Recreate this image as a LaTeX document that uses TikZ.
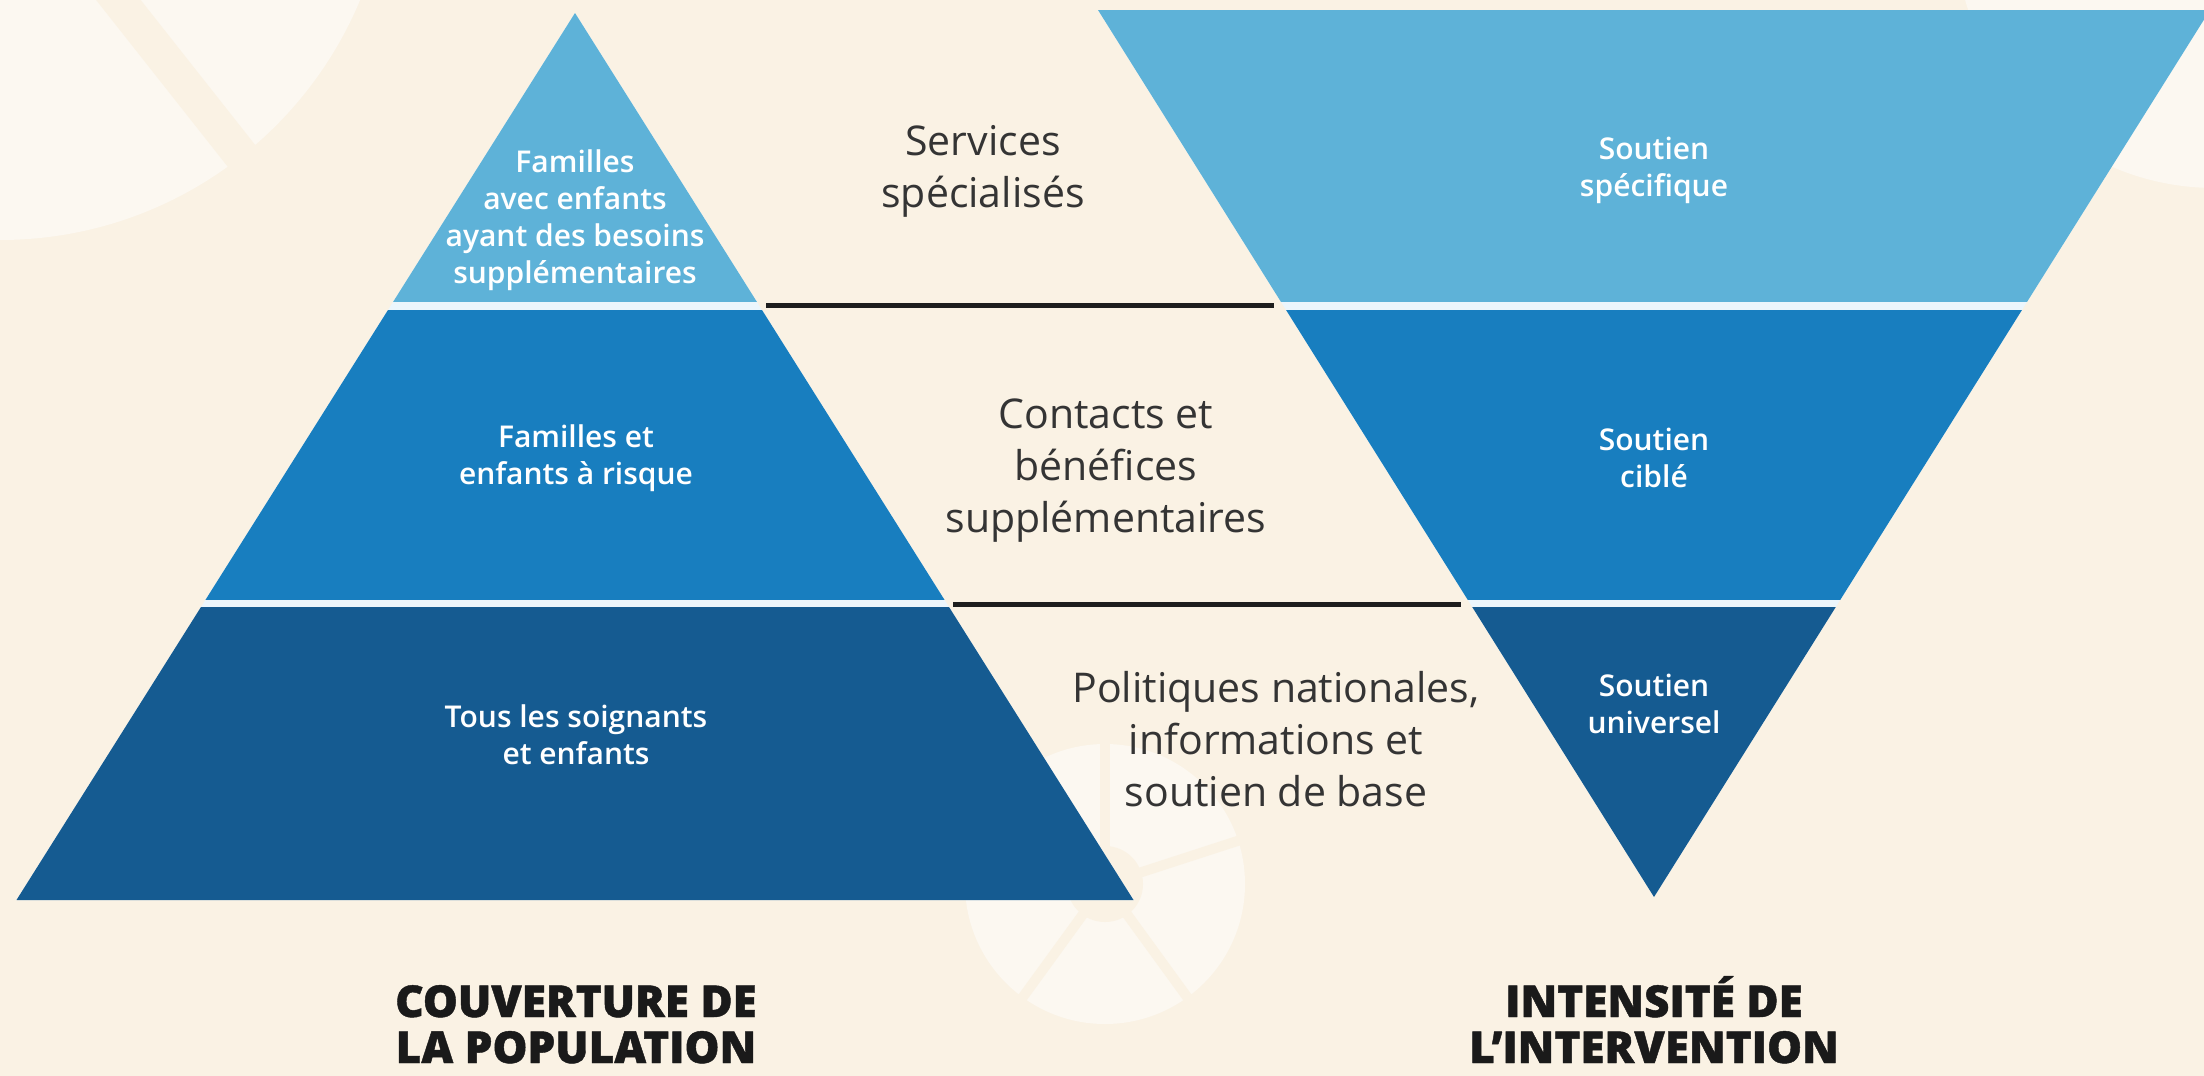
\documentclass[tikz,border=0pt]{standalone}
\usepackage{fontspec}
\setmainfont{Open Sans}
\IfFontExistsTF{Open Sans SemiBold}{\newfontfamily\semib{Open Sans SemiBold}}{%
  \IfFontExistsTF{Open Sans Semibold}{\newfontfamily\semib{Open Sans Semibold}}{\newfontfamily\semib{Open Sans Bold}}}
\IfFontExistsTF{Open Sans ExtraBold}{\newfontfamily\heavyf[FakeBold=1]{Open Sans ExtraBold}}{%
  \IfFontExistsTF{Open Sans Extrabold}{\newfontfamily\heavyf[FakeBold=1]{Open Sans Extrabold}}{\newfontfamily\heavyf[FakeBold=1.5]{Open Sans Bold}}}
\definecolor{bg}{RGB}{250,242,228}
\definecolor{deco}{RGB}{252,248,241}
\definecolor{tierA}{RGB}{94,178,216}
\definecolor{tierB}{RGB}{24,126,191}
\definecolor{tierC}{RGB}{21,91,145}
\definecolor{gapc}{RGB}{236,246,252}
\definecolor{ink}{RGB}{52,52,52}
\definecolor{titleink}{RGB}{26,26,26}
\definecolor{rulec}{RGB}{30,30,30}
\tikzset{
  whitetxt/.style={text=white, align=center, font=\semib\fontsize{30}{37}\selectfont, inner sep=0pt},
  midtxt/.style={text=ink, align=center, font=\fontsize{41}{52}\selectfont, inner sep=0pt},
  titletxt/.style={text=titleink, anchor=base, font=\heavyf\fontsize{44}{48}\selectfont, inner sep=0pt},
  divider/.style={draw=rulec, line width=5pt},
  decofill/.style={fill=deco},
}
\begin{document}
\begin{tikzpicture}[x=1pt,y=-1pt]
\fill[bg] (0,0) rectangle (2204,1076);
\useasboundingbox (0,0) rectangle (2204,1076);
% background decorations
\begin{scope}
\clip (0,0) rectangle (2204,1076);
\fill[decofill] (0,-150) circle (390);
\draw[bg, line width=35pt] (0,-150) -- (300,230);
\fill[decofill] (2215,-72) circle (260);
\fill[decofill] (1105,884) circle (140);
\foreach \a in {-90,-18,54,126,198} \draw[bg, line width=10pt] (1105,884) -- ++(\a:150);
\fill[bg] (1105,884) circle (38);
\end{scope}
% left pyramid
\coordinate (LA) at (575,13);
\coordinate (LL) at (16.5,900);
\coordinate (LR) at (1133.5,900);
\fill[gapc] (LA) -- (LL) -- (LR) -- cycle;
\begin{scope}
\clip (LA) -- (LL) -- (LR) -- cycle;
\fill[tierA] (0,0) rectangle (1200,302);
\fill[tierB] (0,310) rectangle (1200,600);
\fill[tierC] (0,607) rectangle (1200,905);
\end{scope}
% right inverted pyramid
\coordinate (RL) at (1098,10);
\coordinate (RR) at (2210,10);
\coordinate (RA) at (1654,897);
\fill[gapc] (RL) -- (RR) -- (RA) -- cycle;
\begin{scope}
\clip (RL) -- (RR) -- (RA) -- cycle;
\fill[tierA] (1050,0) rectangle (2250,302);
\fill[tierB] (1050,310) rectangle (2250,600);
\fill[tierC] (1050,607) rectangle (2250,905);
\end{scope}
% dividers
\coordinate (d1a) at (766,305);
\coordinate (d1b) at (1274,305);
\coordinate (d2a) at (953,604);
\coordinate (d2b) at (1461,604);
\draw[divider] (d1a) -- (d1b);
\draw[divider] (d2a) -- (d2b);
% left tier texts
\node[whitetxt] (lt1) at (575,220) {Familles\\avec enfants\\ayant des besoins\\supplémentaires};
\node[whitetxt] (lt2) at (576,458) {Familles et\\enfants à risque};
\node[whitetxt] (lt3) at (576,735) {Tous les soignants\\et enfants};
% right tier texts
\node[whitetxt] (rt1) at (1654,170) {Soutien\\spécifique};
\node[whitetxt] (rt2) at (1654,458) {Soutien\\ciblé};
\node[whitetxt] (rt3) at (1654,704) {Soutien\\universel};
% middle texts
\node[midtxt] (m1) at (983,171) {Services\\spécialisés};
\node[midtxt] (m2) at (1106,471) {Contacts et\\bénéfices\\supplémentaires};
\node[midtxt] (m3) at (1276,739) {Politiques nationales,\\informations et\\soutien de base};
% titles
\node[titletxt] (t1a) at (576,1017) {COUVERTURE DE};
\node[titletxt] (t1b) at (576,1063) {LA POPULATION};
\node[titletxt] (t2a) at (1654,1017) {INTENSITÉ DE};
\node[titletxt] (t2b) at (1654,1063) {L’INTERVENTION};
\end{tikzpicture}
\end{document}
